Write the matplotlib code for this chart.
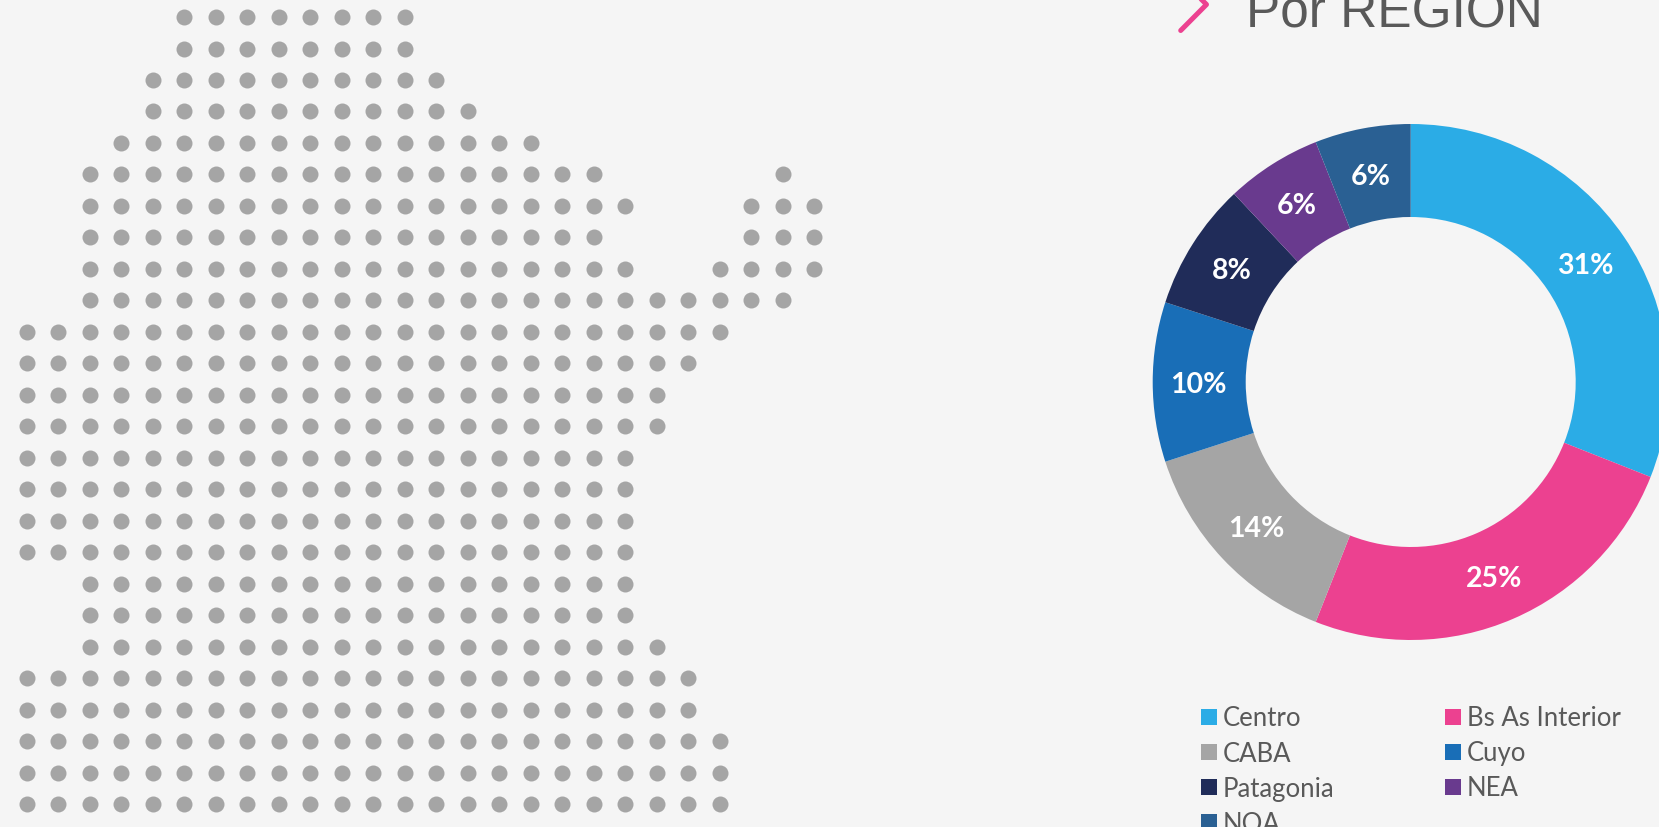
"""
Dotted map on the left, "Por REGION" donut on the right.
"""

import matplotlib

matplotlib.use("Agg")
import matplotlib.pyplot as plt
from matplotlib.patches import Rectangle

# ===== Data =====
REGIONS = ["Centro", "Bs As Interior", "CABA", "Cuyo", "Patagonia", "NEA", "NOA"]
SHARES = [31, 25, 14, 10, 8, 6, 6]
COLORS = ["#2BACE6", "#EC4190", "#A5A5A5", "#196EB7", "#202C59", "#693A8E", "#2A6093"]
TITLE = "Por REGION"

# Occupied columns of the dot map, one list of (first, last) spans per row
MAP_ROWS = [
    [(5, 12)],
    [(5, 12)],
    [(4, 13)],
    [(4, 14)],
    [(3, 16)],
    [(2, 18), (24, 24)],
    [(2, 19), (23, 25)],
    [(2, 18), (23, 25)],
    [(2, 19), (22, 25)],
    [(2, 24)],
    [(0, 22)],
    [(0, 21)],
    [(0, 20)],
    [(0, 20)],
    [(0, 19)],
    [(0, 19)],
    [(0, 19)],
    [(0, 19)],
    [(2, 19)],
    [(2, 19)],
    [(2, 20)],
    [(0, 21)],
    [(0, 21)],
    [(0, 22)],
    [(0, 22)],
    [(0, 22)],
]

# ===== Style =====
W, H = 1659, 827
BG = "#F5F5F5"
TEXT = "#595959"
DOT = "#A5A5A5"
PINK = "#EC4190"

# Dot grid, in pixels of the final picture
GRID_X0, GRID_Y0, GRID_STEP = 26.5, 17.0, 31.5
DOT_PX = 16

# Donut, in pixels of the final picture
CX, CY, R_OUT, R_IN = 1410.7, 382.0, 258.0, 165.0


def add_pixel_axes(fig, left, top, width, height):
    return fig.add_axes([left / W, 1 - (top + height) / H, width / W, height / H])


def draw_map(fig):
    ax = add_pixel_axes(fig, 0, 0, W, H)
    ax.set_xlim(-GRID_X0 / GRID_STEP, (W - GRID_X0) / GRID_STEP)
    ax.set_ylim((H - GRID_Y0) / GRID_STEP, -GRID_Y0 / GRID_STEP)
    ax.axis("off")

    cols, rows = [], []
    for row, spans in enumerate(MAP_ROWS):
        for first, last in spans:
            for col in range(first, last + 1):
                cols.append(col)
                rows.append(row)

    size = (DOT_PX * 72 / fig.dpi) ** 2
    ax.scatter(cols, rows, s=size, color=DOT, linewidths=0)


def draw_donut(fig):
    ax = add_pixel_axes(fig, CX - R_OUT, CY - R_OUT, 2 * R_OUT, 2 * R_OUT)
    _, _, autotexts = ax.pie(
        SHARES,
        colors=COLORS,
        startangle=90,
        counterclock=False,
        radius=1,
        autopct="%d%%",
        pctdistance=0.82,
        wedgeprops={"width": 1 - R_IN / R_OUT, "linewidth": 0},
    )
    ax.set_xlim(-1, 1)
    ax.set_ylim(-1, 1)
    for t in autotexts:
        t.set_color("white")
        t.set_fontfamily("Lato")
        t.set_fontweight("bold")
        t.set_fontsize(20.5)
        x, y = t.get_position()
        t.set_position((x - 0.002, y - 0.010))


def draw_header_and_legend(fig):
    ax = add_pixel_axes(fig, 0, 0, W, H)
    ax.set_xlim(0, W)
    ax.set_ylim(H, 0)
    ax.axis("off")
    ax.patch.set_alpha(0)

    # Chevron next to the title, its top runs off the picture
    ax.plot([1180.7, 1206.5, 1198], [30.5, 4.5, -4], color=PINK, linewidth=3.6,
            solid_capstyle="round", solid_joinstyle="round")
    ax.text(1246, 28, TITLE, family="Liberation Sans", fontsize=37, color=TEXT,
            ha="left", va="baseline")

    # Legend reads across, two entries per row
    for i, (name, color) in enumerate(zip(REGIONS, COLORS)):
        col, row = i % 2, i // 2
        x = 1201 + col * 244
        y = 709 + row * 35
        ax.add_patch(Rectangle((x, y), 16, 16, facecolor=color, linewidth=0))
        ax.text(x + 22, y + 7.5, name, family="Lato", fontsize=18.5, color=TEXT,
                ha="left", va="center_baseline")


def main():
    fig = plt.figure(figsize=(W / 100, H / 100), dpi=100, facecolor=BG)
    draw_map(fig)
    draw_donut(fig)
    draw_header_and_legend(fig)
    fig.savefig("out.png", dpi=100, facecolor=BG)


if __name__ == "__main__":
    main()
